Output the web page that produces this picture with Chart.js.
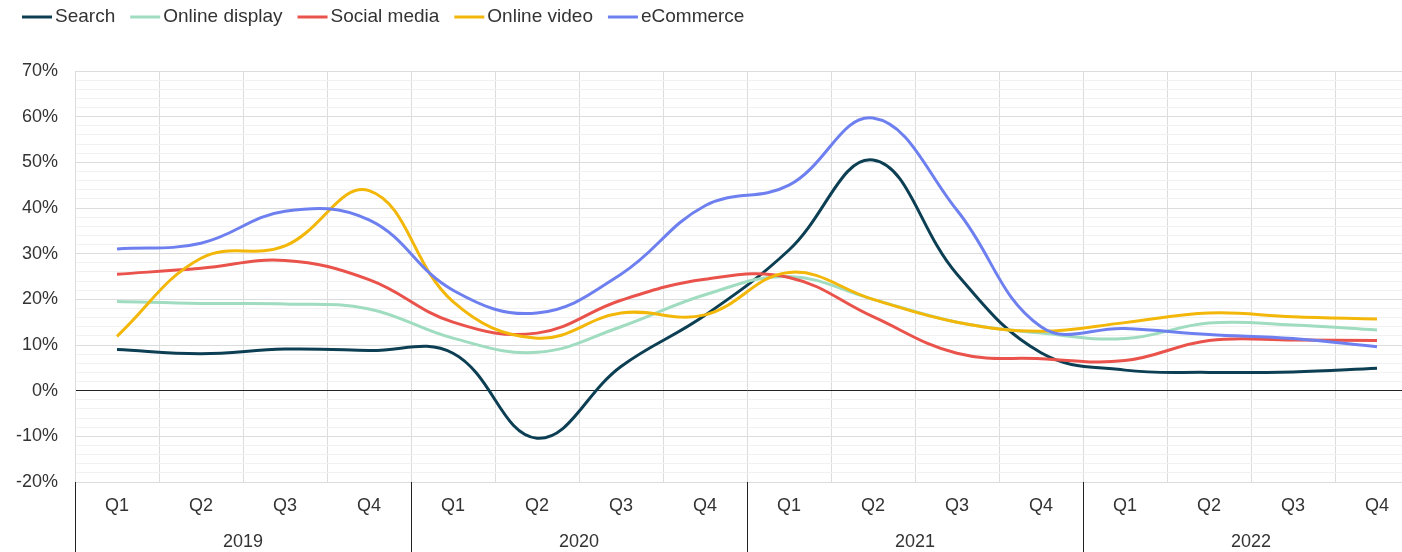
<!DOCTYPE html>
<html>
<head>
<meta charset="utf-8">
<script src="https://cdn.jsdelivr.net/npm/chart.js@4"></script>
<style>
  html, body { margin: 0; padding: 0; background: #fff; overflow: hidden; }
  #wrap { width: 1420px; height: 552px; position: relative; }
</style>
</head>
<body>
<div id="wrap"><canvas id="adChart"></canvas></div>
<script>
// quarterly growth by channel, in percent
const quarters = ['Q1','Q2','Q3','Q4','Q1','Q2','Q3','Q4','Q1','Q2','Q3','Q4','Q1','Q2','Q3','Q4'];
const years = ['2019','2020','2021','2022'];

const search        = [9.0, 8.1, 9.1, 8.8, 8.2, -10.4, 5.3, 16.5, 30.8, 50.5, 25.5, 8.3, 4.5, 4.0, 4.1, 4.9];
const onlineDisplay = [19.5, 19.1, 19.0, 17.9, 11.5, 8.4, 14.0, 21.0, 25.0, 20.0, 15.0, 12.6, 11.4, 14.8, 14.4, 13.3];
const socialMedia   = [25.5, 26.8, 28.5, 24.3, 15.0, 12.6, 19.8, 24.4, 24.8, 16.2, 8.2, 7.0, 6.6, 11.0, 11.1, 11.0];
const onlineVideo   = [11.9, 29.0, 31.7, 43.8, 19.5, 11.5, 17.0, 16.6, 25.9, 20.0, 15.0, 13.0, 14.9, 17.0, 16.2, 15.7];
const eCommerce     = [31.0, 32.3, 39.3, 37.4, 22.0, 17.0, 25.5, 40.5, 45.0, 59.7, 39.5, 14.0, 13.6, 12.3, 11.4, 9.6];

const textColor = '#333';
const fontFamily = 'Liberation Sans, Arial, sans-serif';
const font = { family: fontFamily, size: 18 };

function series(label, data, color, order) {
  return {
    label: label,
    data: data,
    borderColor: color,
    backgroundColor: color,
    borderWidth: 3,
    pointRadius: 0,
    tension: 0.4,
    order: order,
    xAxisID: 'x'
  };
}

// legend row: short line + name, drawn left to right
const lineLegend = {
  id: 'lineLegend',
  afterDraw(chart) {
    const ctx = chart.ctx;
    ctx.save();
    ctx.font = '19px ' + fontFamily;
    ctx.textBaseline = 'middle';
    let x = 22;
    const y = 17;
    chart.data.datasets.forEach(ds => {
      ctx.strokeStyle = ds.borderColor;
      ctx.lineWidth = 3;
      ctx.beginPath();
      ctx.moveTo(x, y);
      ctx.lineTo(x + 30, y);
      ctx.stroke();
      x += 33;
      ctx.fillStyle = textColor;
      ctx.fillText(ds.label, x, y);
      x += ctx.measureText(ds.label).width + 15;
    });
    ctx.restore();
  }
};

// dark separators between the year groups, under the plot
const yearDividers = {
  id: 'yearDividers',
  afterDraw(chart) {
    const xs = chart.scales.x;
    const ctx = chart.ctx;
    ctx.save();
    ctx.strokeStyle = '#222';
    ctx.lineWidth = 1;
    for (let i = 0; i <= quarters.length; i += 4) {
      const px = Math.round(xs.getPixelForValue(i - 0.5)) + 0.5;
      ctx.beginPath();
      ctx.moveTo(px, chart.chartArea.bottom);
      ctx.lineTo(px, chart.height);
      ctx.stroke();
    }
    ctx.restore();
  }
};

new Chart(document.getElementById('adChart'), {
  type: 'line',
  data: {
    labels: quarters,
    datasets: [
      series('Search', search, '#0c3f53', 4),
      series('Online display', onlineDisplay, '#a0dcc0', 3),
      series('Social media', socialMedia, '#e9534b', 2),
      series('Online video', onlineVideo, '#f3b709', 1),
      series('eCommerce', eCommerce, '#6e80ef', 0)
    ]
  },
  options: {
    responsive: true,
    maintainAspectRatio: false,
    animation: false,
    layout: { padding: { left: 14, right: 1, top: 71, bottom: 0 } },
    plugins: {
      legend: { display: false },
      tooltip: { enabled: false }
    },
    scales: {
      x: {
        type: 'category',
        position: 'bottom',
        offset: true,
        weight: 0,
        grid: { offset: true, color: '#dcdcdc', drawTicks: false },
        border: { color: '#dcdcdc' },
        ticks: { color: textColor, font: font, padding: 13, maxRotation: 0, autoSkip: false },
        afterFit: (scale) => { scale.height = 35; }
      },
      x2: {
        type: 'category',
        position: 'bottom',
        labels: years,
        offset: true,
        weight: 1,
        grid: { display: false, drawTicks: false },
        border: { display: false },
        ticks: { color: textColor, font: font, padding: 14, maxRotation: 0 },
        afterFit: (scale) => { scale.height = 35; }
      },
      y: {
        min: -20,
        max: 70,
        grid: {
          color: (ctx) => {
            const v = ctx.tick.value;
            if (v === 0) return '#222';
            return v % 10 === 0 ? '#dcdcdc' : '#f1f1f1';
          },
          drawTicks: false
        },
        border: { color: '#dcdcdc' },
        ticks: {
          stepSize: 2,
          autoSkip: false,
          padding: 17,
          color: textColor,
          font: font,
          callback: (v) => v % 10 === 0 ? v + '%' : ''
        },
        afterFit: (scale) => { scale.width = 61; }
      }
    }
  },
  plugins: [lineLegend, yearDividers]
});
</script>
</body>
</html>
